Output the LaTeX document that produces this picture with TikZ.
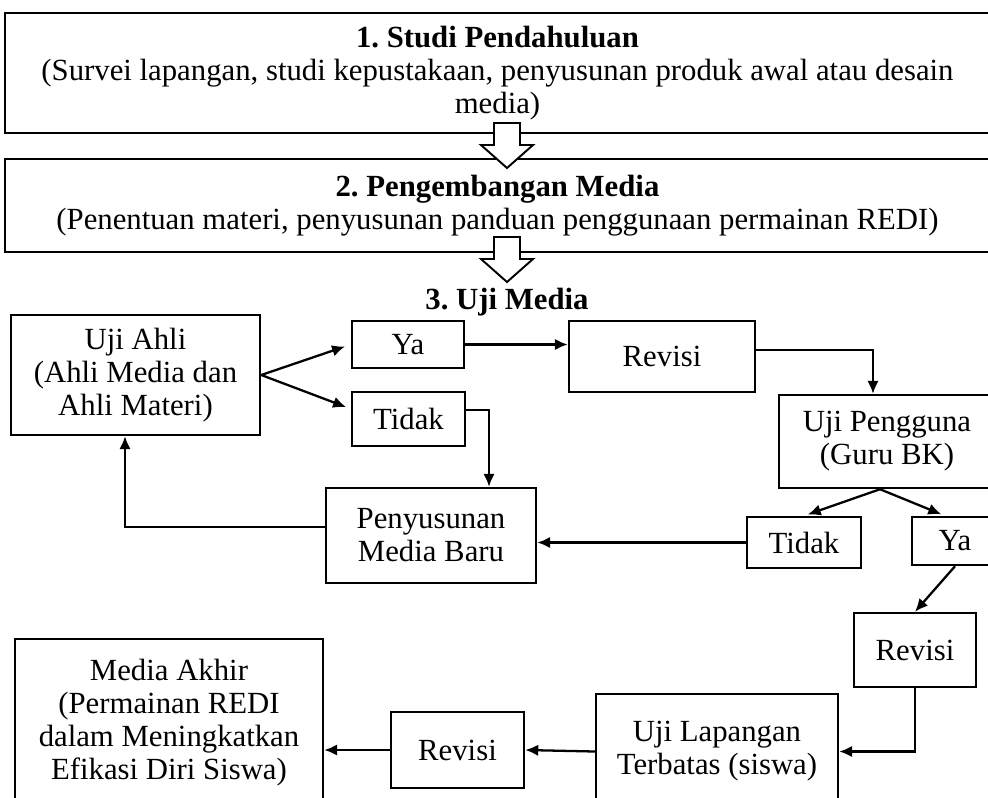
\documentclass[tikz,border=0pt]{standalone}
\usepackage{fontspec}
\setmainfont{Liberation Serif}
\usetikzlibrary{arrows.meta,shapes,calc,positioning}

\begin{document}
\begin{tikzpicture}[x=0.2mm, y=-0.2mm,
box/.style={
	rectangle,
	draw,
	line width=1.4pt,
	align=center,
	inner sep=0mm,
	font=\fontsize{17.5}{18.8}\selectfont},
title/.style={
	font=\fontsize{17.5}{18.8}\selectfont\bfseries},
post/.style={
	->,
	draw,
	>={Latex[length=2.6mm,width=2.3mm]},
	line width=1.3pt},
hollow/.style={
	draw,
	fill=white,
	line width=1.1pt,
	line join=miter}]

\useasboundingbox (0,0) rectangle (988,797);

%Stages
\node[box, minimum width=197mm, minimum height=24mm] (study) at (497.5,73) {\textbf{1.\ Studi Pendahuluan}\\(Survei lapangan, studi kepustakaan, penyusunan produk awal atau desain\\media)};
\node[box, minimum width=197mm, minimum height=18.6mm] (devel) at (497.5,205.5) {\textbf{2.\ Pengembangan Media}\\(Penentuan materi, penyusunan panduan penggunaan permainan REDI)};
\node[title] (test) at (507,302) {3.\ Uji Media};

\foreach \t in {123,237}
	\draw[hollow] (494,\t) -- (520,\t) -- (520,\t+22) -- (533,\t+22) -- (507,\t+45) -- (481,\t+22) -- (494,\t+22) -- cycle;

%Uji Media
\node[box, minimum width=49.8mm, minimum height=24mm] (ahli) at (135.5,375) {Uji Ahli\\(Ahli Media dan\\Ahli Materi)};
\node[box, minimum width=22.4mm, minimum height=9.4mm] (ya1) at (408,344.5) {Ya};
\node[box, minimum width=22.6mm, minimum height=10.8mm] (tidak1) at (408.5,419) {Tidak};
\node[box, minimum width=37.2mm, minimum height=14.2mm] (rev1) at (662,356.5) {Revisi};
\node[box, minimum width=43.2mm, minimum height=18.6mm] (pengguna) at (887,441.5) {Uji Pengguna\\(Guru BK)};
\node[box, minimum width=22.8mm, minimum height=10.2mm] (tidak2) at (804,542.5) {Tidak};
\node[box, minimum width=17.2mm, minimum height=9.6mm] (ya2) at (955,541) {Ya};
\node[box, minimum width=42mm, minimum height=19mm] (baru) at (431,535.5) {Penyusunan\\Media Baru};
\node[box, minimum width=24.4mm, minimum height=14.8mm] (rev2) at (915,650) {Revisi};
\node[box, minimum width=48.4mm, minimum height=23mm] (lapangan) at (717,751.5) {Uji Lapangan\\Terbatas (siswa)};
\node[box, minimum width=26.6mm, minimum height=15.2mm] (rev3) at (457.5,750) {Revisi};
\node[box, minimum width=61.6mm, minimum height=33.4mm] (akhir) at (169,722.5) {Media Akhir\\(Permainan REDI\\dalam Meningkatkan\\Efikasi Diri Siswa)};

\path[post, shorten >=1.2mm] (ahli.east) to (ya1.west);
\path[post, shorten >=1mm] (ahli.east) to (tidak1.170);
\path[post] (ya1.east) to (ya1.east -| rev1.west);
\path[post] ([yshift=1.3mm]rev1.east) -| ([xshift=-2.8mm]pengguna.north);
\path[post] ([yshift=1.8mm]tidak1.east) -| ([xshift=11.6mm]baru.north);
\path[post] ([yshift=1.7mm]baru.west) -| ([xshift=-2.1mm]ahli.south);
\path[post, shorten >=0.8mm] ([xshift=-1.4mm]pengguna.south) to (tidak2.north);
\path[post, shorten >=0.8mm] ([xshift=-1.4mm]pengguna.south) to ([xshift=-2mm]ya2.north);
\path[post] (tidak2.west) to (tidak2.west -| baru.east);
\path[post] (ya2.south) to (rev2.north);
\path[post] (rev2.south) |- (lapangan.east);
\path[post] (lapangan.west) to (rev3.east);
\path[post] (rev3.west) to (rev3.west -| akhir.east);
\end{tikzpicture}
\end{document}
